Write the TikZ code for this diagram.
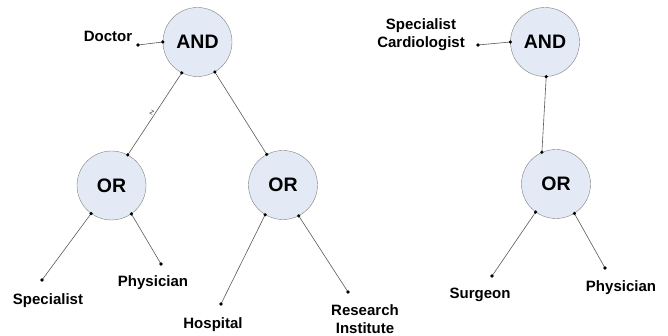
\documentclass[tikz,border=0pt]{standalone}
\usepackage{fontspec}
\setmainfont{Liberation Sans}
\begin{document}
\begin{tikzpicture}[x=1pt,y=-1pt,
  gate/.style={circle,draw=black!50,fill=gatefill,minimum size=69pt,inner sep=0pt,font=\fontsize{19.5}{22}\selectfont\bfseries},
  lbl/.style={font=\fontsize{15}{18}\selectfont\bfseries,align=center,inner sep=0pt},
  conn/.style={draw=black!65,line width=0.6pt},
  dot/.style={circle,fill=black,inner sep=0pt,minimum size=3.6pt}]
\definecolor{gatefill}{HTML}{E4EAF5}
\useasboundingbox (0,0) rectangle (668,336);
% gates
\node[gate] (and1) at (197.5,42) {AND};
\node[gate] (or1) at (111.5,185.5) {OR};
\node[gate] (or2) at (283,185) {OR};
\node[gate] (and2) at (545,42) {AND};
\node[gate] (or3) at (556,184) {OR};
% labels
\node[lbl] (doctor) at (108,36) {Doctor};
\node[lbl] (spec) at (48,301) {Specialist};
\node[lbl] (phys1) at (153,283) {Physician};
\node[lbl] (hosp) at (213,325) {Hospital};
\node[lbl] (res) at (365,319) {Research\\Institute};
\node[lbl] (speccard) at (421,35) {Specialist\\Cardiologist};
\node[lbl] (surg) at (480,295) {Surgeon};
\node[lbl] (phys2) at (621,288) {Physician};
\node[font=\fontsize{8}{9}\selectfont,text=black!70,inner sep=0pt,rotate=-30] (z) at (152,113) {z};
% free ends
\coordinate (cdoc) at (138,45);
\coordinate (cspec) at (42,280);
\coordinate (cphys1) at (161,264);
\coordinate (chosp) at (221,304);
\coordinate (cres) at (348,292);
\coordinate (csc) at (478,45);
\coordinate (csurg) at (492,276);
\coordinate (cphys2) at (605,268);
% connectors
\draw[conn] (cdoc) -- (and1.180);
\draw[conn] (and1.243) -- (or1.62);
\draw[conn] (and1.-60) -- (or2.118);
\draw[conn] (or1.-126) -- (cspec);
\draw[conn] (or1.-55) -- (cphys1);
\draw[conn] (or2.-121) -- (chosp);
\draw[conn] (or2.-63) -- (cres);
\draw[conn] (csc) -- (and2.180);
\draw[conn] (and2.-88) -- (or3.114);
\draw[conn] (or3.-126) -- (csurg);
\draw[conn] (or3.-58) -- (cphys2);
% dots
\foreach \p in {cdoc,and1.180,and1.243,and1.-60,or1.62,or2.118,or1.-126,or1.-55,or2.-121,or2.-63,cspec,cphys1,chosp,cres,csc,and2.180,and2.-88,or3.114,or3.-126,or3.-58,csurg,cphys2}
  \node[dot] at (\p) {};
\end{tikzpicture}
\end{document}
